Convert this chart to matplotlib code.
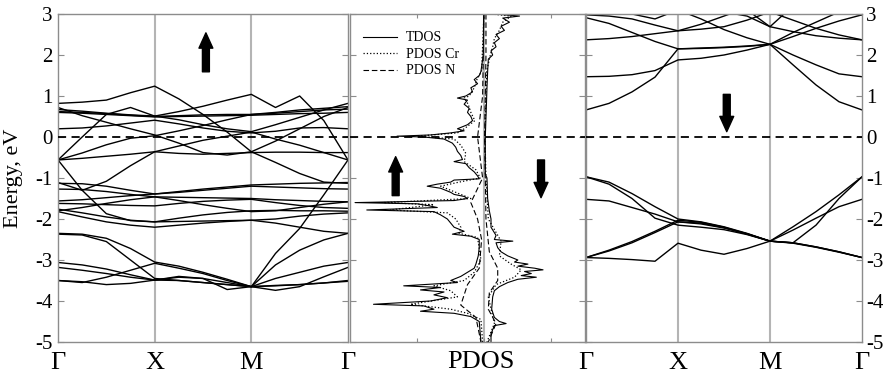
import matplotlib
matplotlib.use('Agg')
import matplotlib.pyplot as plt

plt.rcParams['font.family'] = ['Liberation Serif', 'DejaVu Serif']
plt.rcParams['axes.unicode_minus'] = False

# ---------------- data ----------------
kpath = [0.0, 0.25, 0.5, 0.75, 1.0, 1.25, 1.5, 1.75, 2.0, 2.25, 2.5, 2.75, 3.0]
kticks = [0, 1, 2, 3]
klabels = ['Γ', 'X', 'M', 'Γ']
yticks = [-5, -4, -3, -2, -1, 0, 1, 2, 3]

# spin-up bands (energy, eV) at kpath points
up_b1 = [0.82, 0.85, 0.90, 1.08, 1.24, 0.93, 0.55, 0.12, -0.36, -0.10, 0.20, 0.50, 0.72]
up_b2 = [0.72, 0.52, 0.36, 0.20, 0.05, -0.15, -0.38, -0.44, -0.36, -0.62, -0.89, -1.10, -1.13]
up_b3 = [0.67, 0.63, 0.58, 0.54, 0.51, 0.62, 0.75, 0.90, 1.04, 0.72, 1.00, 0.40, -0.56]
up_b4 = [0.60, 0.58, 0.55, 0.52, 0.49, 0.50, 0.51, 0.52, 0.53, 0.55, 0.57, 0.58, 0.60]
up_b5 = [0.62, 0.60, 0.57, 0.53, 0.50, 0.52, 0.54, 0.55, 0.55, 0.58, 0.62, 0.66, 0.68]
up_b6 = [0.20, 0.22, 0.27, 0.34, 0.41, 0.32, 0.22, 0.14, 0.10, 0.14, 0.22, 0.23, 0.20]
up_b7 = [-0.56, 0.00, 0.55, 0.72, 0.51, 0.42, 0.30, 0.20, 0.13, 0.30, 0.48, 0.66, 0.82]
up_b8 = [-0.56, -0.39, -0.19, -0.03, 0.03, 0.15, 0.28, 0.42, 0.55, 0.60, 0.66, 0.70, 0.74]
up_b9 = [-0.56, -0.52, -0.47, -0.42, -0.36, -0.22, -0.08, 0.02, 0.12, -0.05, -0.20, -0.38, -0.56]
up_b10 = [-1.11, -1.30, -1.08, -0.70, -0.36, -0.40, -0.42, -0.40, -0.38, -0.37, -0.37, -0.38, -0.38]
up_b11 = [-0.56, -1.30, -1.87, -2.04, -2.07, -2.06, -2.05, -2.04, -2.03, -2.10, -2.20, -2.30, -2.35]
up_b12 = [-1.13, -1.14, -1.20, -1.30, -1.39, -1.33, -1.27, -1.22, -1.17, -1.15, -1.13, -1.12, -1.11]
up_b13 = [-1.27, -1.28, -1.33, -1.40, -1.46, -1.47, -1.48, -1.49, -1.50, -1.53, -1.55, -1.57, -1.58]
up_b14 = [-1.56, -1.53, -1.48, -1.43, -1.39, -1.35, -1.30, -1.25, -1.20, -1.22, -1.24, -1.26, -1.27]
up_b15 = [-1.62, -1.63, -1.65, -1.67, -1.68, -1.62, -1.57, -1.54, -1.52, -1.60, -1.67, -1.72, -1.74]
up_b16 = [-1.76, -1.85, -1.95, -2.03, -2.07, -1.98, -1.90, -1.84, -1.80, -1.79, -1.80, -1.80, -1.81]
up_b17 = [-1.80, -1.72, -1.62, -1.53, -1.46, -1.55, -1.65, -1.74, -1.82, -1.80, -1.72, -1.64, -1.58]
up_b18 = [-1.82, -1.95, -2.07, -2.15, -2.20, -2.15, -2.10, -2.06, -2.03, -2.00, -1.93, -1.88, -1.85]
up_b19 = [-2.35, -2.37, -2.47, -2.72, -3.05, -3.15, -3.30, -3.47, -3.65, -3.12, -2.76, -2.51, -2.35]
up_b20 = [-2.37, -2.39, -2.55, -3.00, -3.45, -3.50, -3.55, -3.60, -3.65, -3.45, -3.30, -3.15, -3.06]
up_b21 = [-3.06, -3.12, -3.22, -3.36, -3.49, -3.42, -3.45, -3.72, -3.65, -3.74, -3.65, -3.41, -3.18]
up_b22 = [-3.18, -3.25, -3.33, -3.42, -3.49, -3.50, -3.55, -3.60, -3.65, -3.62, -3.60, -3.56, -3.50]
up_b23 = [-3.50, -3.55, -3.42, -3.25, -3.08, -3.20, -3.33, -3.50, -3.65, -2.84, -2.23, -1.41, -0.56]
up_b24 = [-3.50, -3.53, -3.60, -3.57, -3.49, -3.40, -3.45, -3.55, -3.65, -3.63, -3.60, -3.56, -3.52]

# spin-down bands
dn_b1 = [0.66, 0.82, 1.10, 1.46, 2.15, 2.16, 2.18, 2.21, 2.26, 1.76, 1.27, 0.86, 0.66]
dn_b2 = [1.47, 1.48, 1.52, 1.62, 1.88, 1.92, 2.00, 2.12, 2.26, 2.00, 1.76, 1.54, 1.47]
dn_b3 = [2.37, 2.40, 2.45, 2.52, 2.59, 2.63, 2.69, 2.85, 3.05, 2.85, 2.65, 2.49, 2.37]
dn_b4 = [2.91, 2.77, 2.55, 2.33, 2.15, 2.17, 2.19, 2.22, 2.26, 2.45, 2.65, 2.83, 2.98]
dn_b5 = [2.98, 2.95, 2.88, 2.73, 2.59, 2.75, 2.95, 3.15, 3.30, 3.20, 3.10, 3.02, 2.98]
dn_b6 = [3.40, 3.40, 3.35, 3.25, 3.10, 2.88, 2.62, 2.42, 2.26, 2.55, 2.80, 3.05, 3.20]
dn_b7 = [3.50, 3.45, 3.40, 3.30, 3.25, 3.15, 3.05, 2.95, 2.69, 2.57, 2.47, 2.41, 2.37]
dn_b8 = [3.50, 3.50, 3.50, 3.50, 3.50, 3.45, 3.35, 3.10, 2.69, 3.20, 3.30, 3.35, 3.35]
dn_b9 = [3.30, 3.15, 3.00, 2.88, 3.10, 3.25, 3.35, 3.40, 3.45, 3.40, 3.35, 3.30, 3.30]
dn_v1 = [-0.97, -1.10, -1.38, -1.70, -2.00, -2.07, -2.19, -2.35, -2.54, -2.19, -1.82, -1.41, -0.97]
dn_v2 = [-0.97, -1.15, -1.50, -1.98, -2.15, -2.20, -2.26, -2.38, -2.54, -2.58, -2.15, -1.50, -0.97]
dn_v3 = [-1.52, -1.56, -1.72, -1.88, -2.07, -2.12, -2.22, -2.36, -2.54, -2.27, -1.98, -1.70, -1.52]
dn_v4 = [-2.94, -2.76, -2.55, -2.30, -2.03, -2.08, -2.20, -2.36, -2.54, -2.58, -2.68, -2.80, -2.94]
dn_v5 = [-2.94, -2.78, -2.58, -2.33, -2.07, -2.10, -2.21, -2.37, -2.54, -2.59, -2.69, -2.81, -2.94]
dn_v6 = [-2.94, -2.96, -2.99, -3.03, -2.59, -2.76, -2.86, -2.72, -2.54, -2.58, -2.68, -2.80, -2.94]

bands_up = [up_b1, up_b2, up_b3, up_b4, up_b5, up_b6, up_b7, up_b8, up_b9, up_b10, up_b11, up_b12,
            up_b13, up_b14, up_b15, up_b16, up_b17, up_b18, up_b19, up_b20, up_b21, up_b22, up_b23, up_b24]
bands_dn = [dn_b1, dn_b2, dn_b3, dn_b4, dn_b5, dn_b6, dn_b7, dn_b8, dn_b9,
            dn_v1, dn_v2, dn_v3, dn_v4, dn_v5, dn_v6]

# DOS (spin up plotted negative, spin down positive)
tdos_up_E = [3.0, 2.0, 1.6, 1.5, 1.4, 1.3, 1.2, 1.1, 1.0, 0.95, 0.9, 0.8, 0.7, 0.6, 0.5, 0.4, 0.3, 0.2, 0.15, 0.1,
             0.05, 0.02, 0.0, -0.05, -0.15, -0.25, -0.35, -0.45, -0.55, -0.6, -0.65, -0.75, -0.85, -0.95, -1.02,
             -1.05, -1.1, -1.15, -1.2, -1.25, -1.35, -1.4, -1.45, -1.5, -1.55, -1.6, -1.63, -1.67, -1.72, -1.78,
             -1.82, -1.9, -2.0, -2.1, -2.2, -2.3, -2.37, -2.42, -2.5, -2.7, -2.9, -3.1, -3.2, -3.3, -3.4, -3.5,
             -3.55, -3.63, -3.67, -3.73, -3.78, -3.85, -3.92, -4.0, -4.08, -4.12, -4.2, -4.25, -4.3, -4.38, -4.5,
             -4.8, -5.0]
tdos_up_D = [-0.02, -0.03, -0.1, -0.15, -0.3, -0.2, -0.4, -0.35, -0.55, -0.8, -0.5, -0.6, -0.45, -0.5, -0.4, -0.35,
             -0.5, -0.8, -0.6, -1.0, -1.6, -2.6, -1.8, -1.2, -0.95, -0.85, -0.8, -0.7, -0.65, -0.9, -0.55, -0.45,
             -0.3, -0.2, -0.15, -0.9, -1.0, -1.4, -1.7, -1.3, -1.0, -0.9, -0.6, -0.5, -0.9, -3.85, -2.0, -1.7, -1.4,
             -3.5, -1.5, -1.3, -1.1, -1.0, -0.9, -0.6, -0.95, -0.4, -0.15, -0.15, -0.18, -0.25, -0.3, -0.5, -0.7,
             -1.0, -0.8, -2.4, -1.3, -1.9, -1.2, -1.5, -1.1, -1.6, -3.3, -1.8, -1.5, -1.9, -0.9, -0.4, -0.15,
             -0.12, -0.1]
tdos_dn_E = [3.0, 2.95, 2.9, 2.8, 2.7, 2.6, 2.5, 2.4, 2.3, 2.2, 2.1, 2.0, 1.9, 1.6, 1.2, 0.7, 0.0, -0.9, -1.0,
             -1.5, -1.8, -2.0, -2.2, -2.4, -2.5, -2.54, -2.58, -2.7, -2.8, -2.9, -3.0, -3.05, -3.1, -3.15, -3.2,
             -3.24, -3.28, -3.33, -3.38, -3.42, -3.47, -3.55, -3.65, -3.75, -3.9, -4.2, -4.4, -4.5, -4.55, -4.6,
             -4.8, -5.0]
tdos_dn_D = [0.3, 1.05, 0.55, 0.75, 0.5, 0.6, 0.35, 0.45, 0.3, 0.35, 0.2, 0.25, 0.12, 0.1, 0.08, 0.06, 0.03,
             0.03, 0.08, 0.1, 0.15, 0.2, 0.2, 0.35, 0.3, 0.85, 0.35, 0.4, 0.5, 0.7, 1.0, 0.9, 1.3, 1.0, 1.5, 1.75,
             1.2, 1.4, 1.1, 1.55, 1.0, 0.7, 0.45, 0.3, 0.25, 0.22, 0.3, 0.45, 0.65, 0.3, 0.2, 0.2]
cr_up_E = [3.0, 1.6, 1.4, 1.2, 1.0, 0.95, 0.8, 0.6, 0.4, 0.2, 0.1, 0.02, -0.05, -0.2, -0.4, -0.6, -0.8, -1.0,
           -1.1, -1.2, -1.4, -1.5, -1.6, -1.65, -1.78, -1.85, -2.0, -2.2, -2.35, -2.45, -3.0, -3.3, -3.5, -3.63,
           -3.75, -3.9, -4.08, -4.2, -4.3, -4.45, -5.0]
cr_up_D = [-0.01, -0.08, -0.22, -0.3, -0.45, -0.6, -0.48, -0.4, -0.28, -0.6, -0.8, -2.0, -0.9, -0.7, -0.55,
           -0.6, -0.25, -0.12, -0.75, -1.3, -0.7, -0.4, -3.0, -1.5, -2.8, -1.1, -0.85, -0.7, -0.75, -0.2, -0.1,
           -0.3, -0.6, -1.5, -1.0, -0.8, -2.2, -1.0, -0.5, -0.1, -0.05]
cr_dn_E = [3.0, 2.95, 2.8, 2.6, 2.4, 2.2, 2.0, 1.6, 0.0, -1.0, -2.0, -2.54, -2.9, -3.1, -3.24, -3.42, -3.6,
           -3.9, -4.55, -5.0]
cr_dn_D = [0.2, 0.8, 0.55, 0.45, 0.3, 0.25, 0.18, 0.07, 0.02, 0.05, 0.12, 0.5, 0.45, 0.8, 1.1, 0.9, 0.35,
           0.12, 0.3, 0.08]
n_up_E = [3.0, 1.0, 0.0, -1.0, -1.6, -2.0, -2.5, -3.2, -3.6, -4.1, -4.4, -5.0]
n_up_D = [-0.01, -0.05, -0.2, -0.05, -0.4, -0.2, -0.08, -0.15, -0.5, -0.7, -0.25, -0.1]
n_dn_E = [3.0, 2.0, 0.0, -2.0, -2.8, -3.2, -3.5, -3.8, -4.2, -4.55, -5.0]
n_dn_D = [0.05, 0.05, 0.01, 0.05, 0.15, 0.4, 0.4, 0.15, 0.12, 0.35, 0.12]

# ---------------- figure ----------------
W, H = 886, 381
fig = plt.figure(figsize=(W / 100, H / 100), dpi=100)


def px_axes(x0, x1, y0, y1):
    return fig.add_axes([x0 / W, 1 - y1 / H, (x1 - x0) / W, (y1 - y0) / H])


axL = px_axes(58, 348, 14, 342)
axM = px_axes(350, 585, 14, 342)
axR = px_axes(586, 862, 14, 342)

spine_col = '#8c8c8c'
grid_col = '#b4b4b4'
for ax in (axL, axM, axR):
    ax.set_ylim(-5, 3)
    for s in ax.spines.values():
        s.set_color(spine_col)
        s.set_linewidth(1.0)
    ax.set_yticks(yticks)
    ax.tick_params(axis='y', direction='in', length=4, color=spine_col,
                   left=True, right=True, labelsize=15)
    ax.axhline(0, color='black', lw=1.3, ls=(0, (4.5, 3)), zorder=3)

for ax, bands in ((axL, bands_up), (axR, bands_dn)):
    ax.set_xlim(0, 3)
    ax.set_xticks(kticks)
    ax.set_xticklabels(klabels)
    ax.tick_params(axis='x', length=0, labelsize=19, pad=7)
    for k in (1, 2):
        ax.axvline(k, color=grid_col, lw=1.5, zorder=1)
    for b in bands:
        ax.plot(kpath, b, color='black', lw=1.0, zorder=2)

axL.tick_params(axis='y', labelleft=True, labelright=False, pad=4)
axR.tick_params(axis='y', labelleft=False, labelright=True, pad=3)
axM.tick_params(axis='y', labelleft=False, labelright=False)

axL.set_ylabel('Energy, eV', fontsize=16)
axL.yaxis.set_label_coords(-0.122, 0.5)

# middle PDOS panel
axM.set_xlim(-4, 3)
axM.set_xticks([-2, 0, 2])
axM.set_xticklabels([])
axM.tick_params(axis='x', direction='in', length=3, color=spine_col, top=True)
axM.axvline(0, color=grid_col, lw=1.5, zorder=1)
h1, = axM.plot(tdos_up_D, tdos_up_E, color='black', lw=0.8, zorder=2)
axM.plot(tdos_dn_D, tdos_dn_E, color='black', lw=0.8, zorder=2)
h2, = axM.plot(cr_up_D, cr_up_E, color='black', lw=0.9, ls=':', zorder=2)
axM.plot(cr_dn_D, cr_dn_E, color='black', lw=0.9, ls=':', zorder=2)
h3, = axM.plot(n_up_D, n_up_E, color='black', lw=0.8, ls=(0, (5, 2.5)), zorder=2)
axM.plot(n_dn_D, n_dn_E, color='black', lw=0.8, ls=(0, (5, 2.5)), zorder=2)
axM.legend([h1, h2, h3], ['TDOS', 'PDOS Cr', 'PDOS N'], loc='upper left',
           bbox_to_anchor=(0.0, 0.985), frameon=False, fontsize=10,
           handlelength=2.5, handletextpad=0.6, labelspacing=0.25)
fig.text(481 / W, 1 - 362 / H, 'PDOS', fontsize=19, ha='center', va='center')


def big_arrow(ax, x, y_tail, y_tip):
    ax.annotate('', xy=(x, y_tip), xytext=(x, y_tail),
                arrowprops=dict(arrowstyle='simple,head_length=1.1,head_width=1.0,tail_width=0.5',
                                color='black', mutation_scale=10, shrinkA=0, shrinkB=0), zorder=5)


big_arrow(axL, 1.53, 1.59, 2.54)
big_arrow(axM, -2.64, -1.43, -0.48)
big_arrow(axM, 1.69, -0.56, -1.48)
big_arrow(axR, 1.53, 1.04, 0.13)

fig.savefig('out.png', dpi=100)
